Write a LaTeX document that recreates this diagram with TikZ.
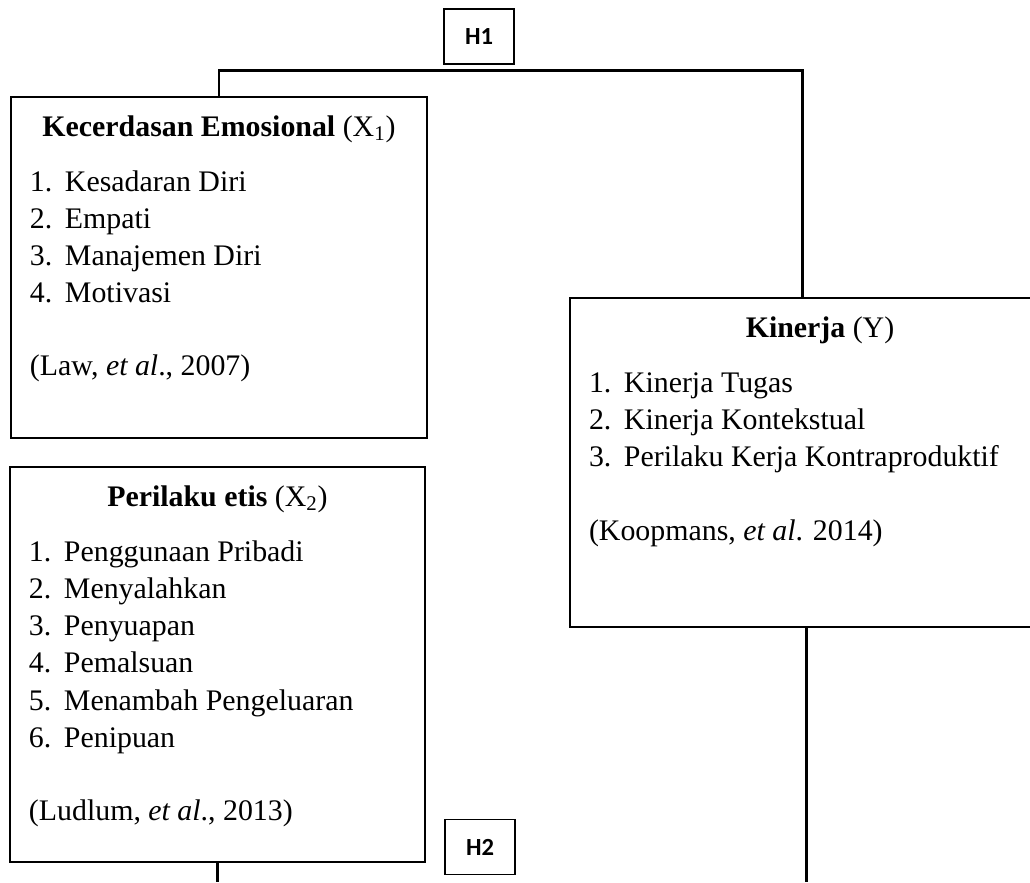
\documentclass[tikz,border=0pt]{standalone}
\usepackage{fontspec}
\setmainfont{Liberation Serif}
\newfontfamily\hypfont{Carlito}
\newlength{\pxu}\setlength{\pxu}{0.02cm}
\newcommand{\itm}[2]{\par\noindent\strut\makebox[35\pxu][l]{#1}#2\par}
\begin{document}
\begin{tikzpicture}[x=0.02cm, y=-0.02cm,
  varbox/.style={draw, line width=0.9pt, inner xsep=19\pxu, inner ysep=0pt,
    font=\fontsize{17}{21.226}\selectfont},
  hypbox/.style={draw, line width=0.9pt, minimum width=70\pxu, minimum height=55\pxu,
    inner sep=0pt, font=\hypfont\bfseries\fontsize{14}{16}\selectfont},
  link/.style={line width=1.7pt}]
\useasboundingbox (0,0) rectangle (1030,882);
\clip (0,0) rectangle (1030,882);
\node[varbox] (x1) at (219,267.5) {\parbox[c][341\pxu][t]{378\pxu}{\vspace*{12.9\pxu}%
  \centerline{\strut\textbf{Kecerdasan Emosional} (X\textsubscript{1})}\vspace{17.7\pxu}%
  \itm{1.}{Kesadaran Diri}\itm{2.}{Empati}\itm{3.}{Manajemen Diri}\itm{4.}{Motivasi}%
  \vspace{35.7\pxu}\noindent\strut(Law, \textit{et al}., 2007)}};
\node[varbox] (x2) at (217.5,664.5) {\parbox[c][395\pxu][t]{377\pxu}{\vspace*{12.9\pxu}%
  \centerline{\strut\textbf{Perilaku etis} (X\textsubscript{2})}\vspace{17.7\pxu}%
  \itm{1.}{Penggunaan Pribadi}\itm{2.}{Menyalahkan}\itm{3.}{Penyuapan}\itm{4.}{Pemalsuan}%
  \itm{5.}{Menambah Pengeluaran}\itm{6.}{Penipuan}%
  \vspace{35.7\pxu}\noindent\strut(Ludlum, \textit{et al}., 2013)}};
\node[varbox] (ky) at (820,462.5) {\parbox[c][329\pxu][t]{462\pxu}{\vspace*{12.9\pxu}%
  \centerline{\strut\textbf{Kinerja} (Y)}\vspace{17.7\pxu}%
  \itm{1.}{Kinerja Tugas}\itm{2.}{Kinerja Kontekstual}\itm{3.}{Perilaku Kerja Kontraproduktif}%
  \vspace{36.5\pxu}\noindent\strut(Koopmans, \textit{et al}. 2014)}};
\node[hypbox] (h1) at (479,36.5) {H1};
\node[hypbox] (h2) at (480,847) {H2};
\coordinate (bot) at (0,882);
\draw[link] (x1.north) -- ++(0,-26) -| ([xshift=-18\pxu]ky.north);
\draw[link] (x2.south) -- (x2.south |- bot);
\draw[link] ([xshift=-14\pxu]ky.south) -- ([xshift=-14\pxu]ky.south |- bot);
\end{tikzpicture}
\end{document}
